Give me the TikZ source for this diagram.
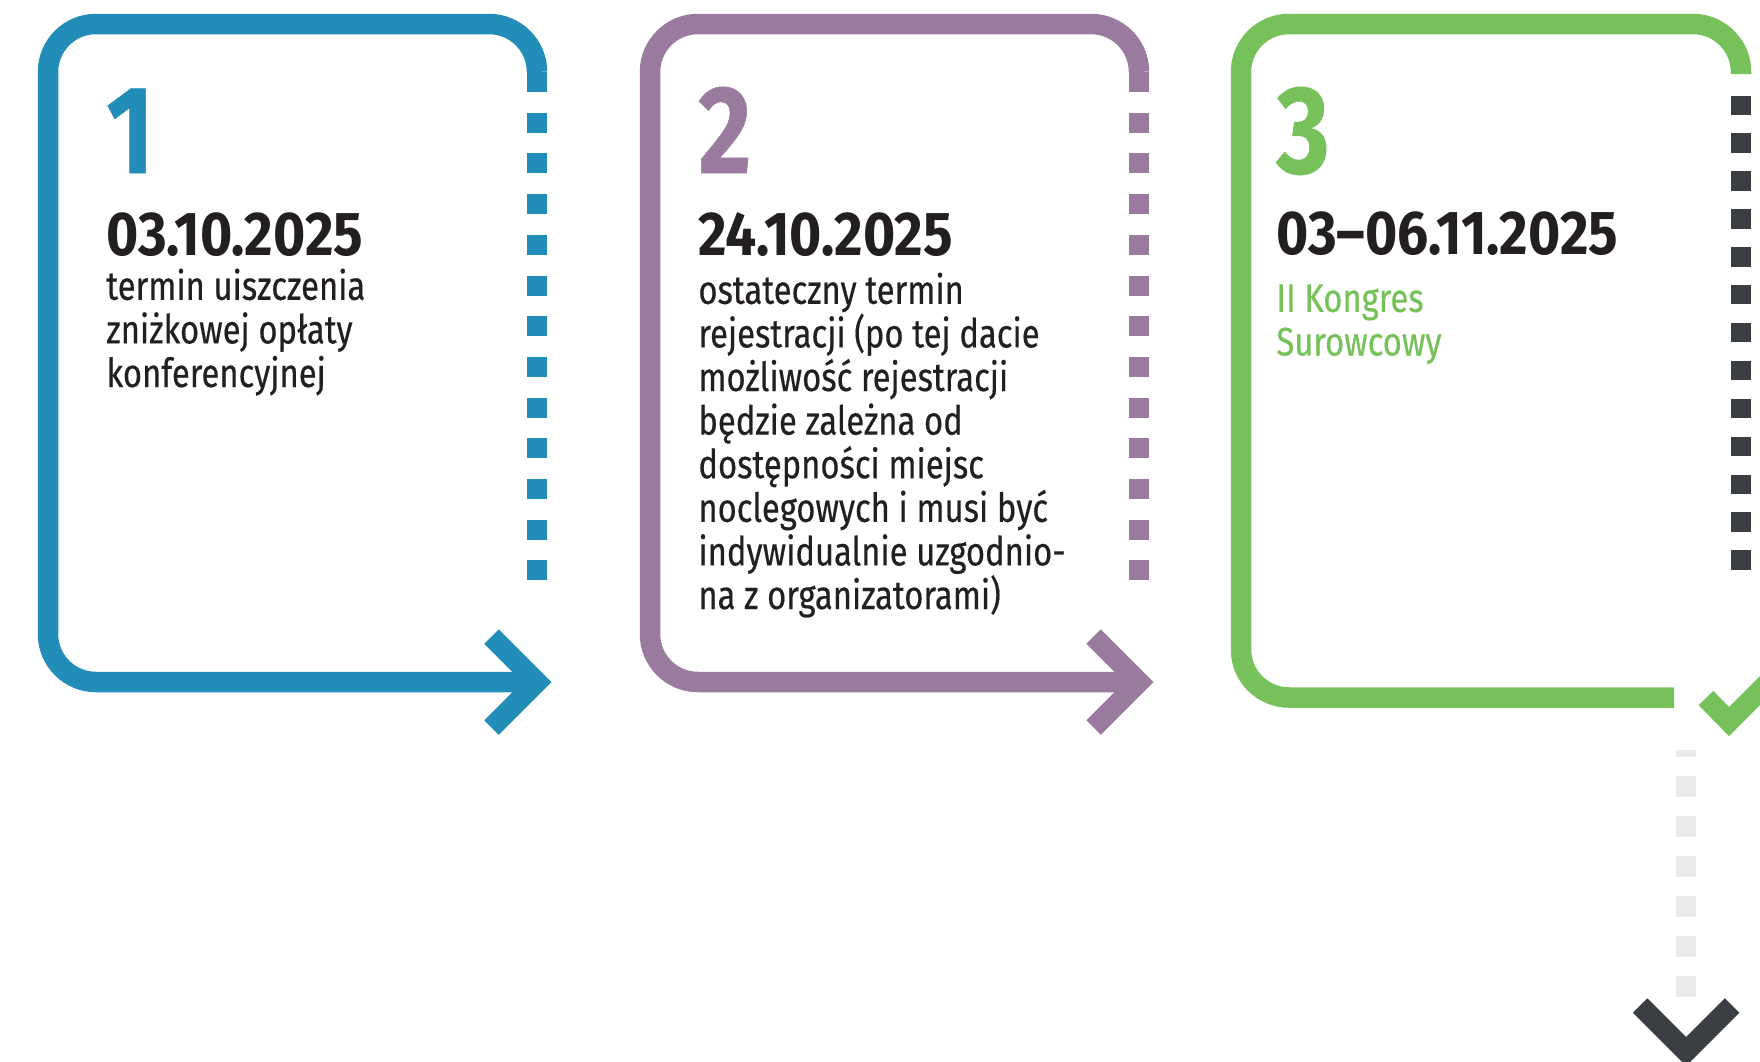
\documentclass[tikz,border=0pt]{standalone}
\usepackage{fontspec}
\setmainfont{Fira Sans}[FakeStretch=0.82, FakeBold=0.4]
\newfontfamily\datefont{Fira Sans}[FakeStretch=0.89]
\definecolor{tlblue}{HTML}{228DB8}
\definecolor{tlpurple}{HTML}{9A7A9E}
\definecolor{tlgreen}{HTML}{77C15A}
\definecolor{tldark}{HTML}{3B3E43}
\definecolor{tlgrey}{HTML}{EBEAEA}
\definecolor{tltext}{HTML}{231F20}

\begin{document}
\begin{tikzpicture}[x=0.5pt, y=-0.5pt,
    frameline/.style={line width=10.25pt, rounded corners=24pt},
    dashside/.style={line width=10.25pt, dash pattern=on 10pt off 10.35pt},
    chevron/.style={line width=10.25pt, line join=miter},
    bignum/.style={anchor=base west, inner sep=0pt, font=\fontsize{62.5}{62.5}\selectfont\bfseries},
    datetext/.style={anchor=base west, inner sep=0pt, text=tltext, font=\datefont\fontsize{31}{31}\selectfont\bfseries},
    bodytext/.style={anchor=base west, inner sep=0pt, align=left, text=tltext, font=\fontsize{20}{21.8}\selectfont}]

    \useasboundingbox (0,0) rectangle (1760,1061);
    \clip (0,0) rectangle (1760,1061);

    % Step 1 (base anchor of the texts = their last line)
    \draw[frameline, tlblue] (537,72) -- (537,24) -- (48,24) -- (48,682) -- (537,682);
    \draw[dashside, tlblue] (537,72) -- (537,581);
    \coordinate (tip1) at (537,682);
    \draw[chevron, tlblue] (491.5,636.5) -- (tip1) -- (491.5,727.5);
    \node[bignum, text=tlblue] (num1) at (106,173) {1};
    \node[datetext] (date1) at (106,255) {03.10.2025};
    \node[bodytext] (text1) at (106,387) {termin uiszczenia\\zniżkowej opłaty\\konferencyjnej};

    % Step 2
    \draw[frameline, tlpurple] (1139,72) -- (1139,24) -- (650,24) -- (650,682) -- (1139,682);
    \draw[dashside, tlpurple] (1139,72) -- (1139,581);
    \coordinate (tip2) at (1139,682);
    \draw[chevron, tlpurple] (1093.5,636.5) -- (tip2) -- (1093.5,727.5);
    \node[bignum, text=tlpurple] (num2) at (698,173) {2};
    \node[datetext] (date2) at (698,255) {24.10.2025};
    \node[bodytext] (text2) at (698,609) {ostateczny termin\\rejestracji (po tej dacie\\możliwość rejestracji\\będzie zależna od\\dostępności miejsc\\noclegowych i musi być\\indywidualnie uzgodnio-\\na z organizatorami)};

    % Step 3
    \draw[frameline, tlgreen] (1741,74) -- (1741,24) -- (1241,24) -- (1241,697.5) -- (1674,697.5);
    \draw[line width=10.25pt, tldark, dash pattern=on 9.7pt off 9.25pt] (1741,95.5) -- (1741,570);
    \coordinate (check) at (1729,721.5);
    \draw[chevron, tlgreen] (1706,698) -- (check) -- (1800,650.5);
    \node[bignum, text=tlgreen] (num3) at (1276,173) {3};
    \node[datetext] (date3) at (1276,254.5) {03–06.11.2025};
    \node[bodytext, text=tlgreen] (text3) at (1276,355.5) {II Kongres\\Surowcowy};

    % next
    \coordinate (down) at (1686,1051.5);
    \draw[line width=10.25pt, tlgrey, dash pattern=on 10.5pt off 9.5pt, dash phase=7pt] (1686,750) -- (1686,998);
    \draw[chevron, tldark] (1640,1005.5) -- (down) -- (1732,1005.5);
\end{tikzpicture}
\end{document}
